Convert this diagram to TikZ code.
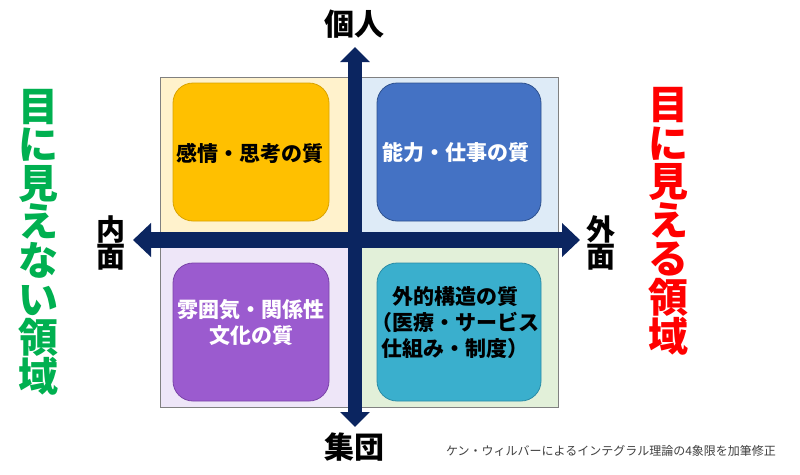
\documentclass[tikz,border=0pt]{standalone}
\usepackage{fontspec}
\setmainfont{Noto Sans CJK JP}
\usetikzlibrary{arrows.meta}
\definecolor{navy}{HTML}{0B2560}
\definecolor{bgTL}{HTML}{FFF2CC}
\definecolor{bgTR}{HTML}{DEEBF7}
\definecolor{bgBL}{HTML}{EEE6F8}
\definecolor{bgBR}{HTML}{E2F0D9}
\definecolor{cyel}{HTML}{FFC000}
\definecolor{cyelD}{HTML}{D9A300}
\definecolor{cblu}{HTML}{4472C4}
\definecolor{cbluD}{HTML}{2F528F}
\definecolor{cpur}{HTML}{9B5BCF}
\definecolor{cpurD}{HTML}{7A44A8}
\definecolor{ctea}{HTML}{3AAFCD}
\definecolor{cteaD}{HTML}{2A8CA6}
\definecolor{cgreen}{HTML}{00B050}
\definecolor{cred}{HTML}{FF0000}
\definecolor{capgray}{HTML}{404040}
\tikzset{
  qbox/.style={draw=#1, line width=0.8pt, rounded corners=20pt},
  boxtext/.style={font=\fontsize{21}{26}\selectfont\bfseries, align=center, inner sep=0pt},
  axislabel/.style={font=\fontsize{30}{30}\selectfont\bfseries, inner sep=0pt},
  sidelabel/.style={font=\fontsize{29}{27}\selectfont\bfseries, align=center, inner sep=0pt},
  realm/.style={font=\fontsize{40}{38.6}\selectfont\bfseries, align=center, inner sep=0pt},
  vaxis/.style={navy, line width=14pt, {Triangle[length=15pt,width=29pt]}-{Triangle[length=15pt,width=29pt]}},
  haxis/.style={navy, line width=16pt, {Triangle[length=18pt,width=33pt]}-{Triangle[length=18pt,width=33pt]}},
}
\begin{document}
\begin{tikzpicture}[x=1pt,y=-1pt]
\useasboundingbox (0,0) rectangle (800,474);
\fill[white] (0,0) rectangle (800,474);
% quadrant backgrounds
\fill[bgTL] (160,77) rectangle (355,240);
\fill[bgTR] (355,77) rectangle (558,240);
\fill[bgBL] (160,240) rectangle (355,407);
\fill[bgBR] (355,240) rectangle (558,407);
\draw[gray, line width=0.8pt] (160,77) rectangle (558,407);
% boxes
\draw[qbox=cyelD, fill=cyel] (173,83) rectangle (329,221);
\draw[qbox=cbluD, fill=cblu] (377,83) rectangle (541,221);
\draw[qbox=cpurD, fill=cpur] (173,263) rectangle (329,401);
\draw[qbox=cteaD, fill=ctea] (377,263) rectangle (541,401);
% box texts
\node[boxtext, text=black] (tl) at (250,153) {感情・思考の質};
\node[boxtext, text=white] (tr) at (456,153) {能力・仕事の質};
\node[boxtext, text=white] (bl) at (251,322) {雰囲気・関係性\\文化の質};
\node[boxtext, text=black] (br) at (455,323) {外的構造の質\\（医療・サービス\\仕組み・制度）};
% axes
\coordinate (top) at (355,47);
\coordinate (bot) at (355,427);
\coordinate (lft) at (133,240);
\coordinate (rgt) at (580,240);
\draw[vaxis] (bot) -- (top);
\draw[haxis] (lft) -- (rgt);
% axis labels
\node[axislabel] (kojin) at (354,24) {個人};
\node[axislabel] (shudan) at (354,447) {集団};
\node[sidelabel] (naimen) at (111,243) {内\\面};
\node[sidelabel] (gaimen) at (601,243) {外\\面};
% realm labels
\node[realm, text=cgreen] (invis) at (38,242) {目\\に\\見\\え\\な\\い\\領\\域};
\node[realm, text=cred] (vis) at (668,221) {目\\に\\見\\え\\る\\領\\域};
% caption
\node[font=\fontsize{12}{12}\selectfont, text=capgray, inner sep=0pt] (cap) at (611,451) {ケン・ウィルバーによるインテグラル理論の4象限を加筆修正};
\end{tikzpicture}
\end{document}
